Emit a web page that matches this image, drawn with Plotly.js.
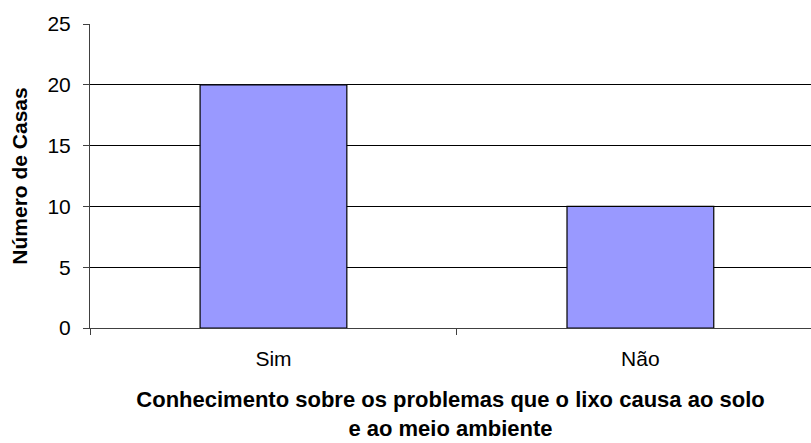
<!DOCTYPE html>
<html>
<head>
<meta charset="utf-8">
<script src="https://cdn.plot.ly/plotly-3.0.1.min.js"></script>
<style>html,body{margin:0;padding:0;background:#fff;}#chart{width:811px;height:443px;}</style>
</head>
<body>
<div id="chart"></div>
<script>
const categories = ["Sim", "Não"];
const values = [20, 10];
const yTicks = [0, 5, 10, 15, 20, 25];

const trace = {
  type: "bar",
  x: categories,
  y: values,
  marker: { color: "#9999FF", line: { color: "#000000", width: 1.2 } },
  hoverinfo: "x+y"
};

const layout = {
  width: 811,
  height: 443,
  margin: { l: 90, r: 0, t: 24, b: 115 },
  paper_bgcolor: "#ffffff",
  plot_bgcolor: "#ffffff",
  font: { family: "Liberation Sans, Arial, sans-serif", color: "#000", size: 21 },
  bargap: 0.6,
  showlegend: false,
  xaxis: {
    type: "category",
    range: [-0.5, 1.465],
    showgrid: false,
    showline: true,
    linecolor: "#404040",
    linewidth: 1,
    ticks: "outside",
    tickson: "boundaries",
    ticklen: 6,
    tickcolor: "#404040",
    tickfont: { size: 21 },
    ticklabelstandoff: 12,
    title: {
      text: "<b>Conhecimento sobre os problemas que o lixo causa ao solo<br>e ao meio ambiente</b>",
      font: { size: 22 },
      standoff: 22
    }
  },
  yaxis: {
    range: [0, 25],
    tickvals: yTicks,
    showgrid: true,
    gridcolor: "#000000",
    gridwidth: 1,
    zeroline: false,
    showline: true,
    linecolor: "#404040",
    ticks: "outside",
    ticklen: 6,
    tickcolor: "#404040",
    tickfont: { size: 21 },
    ticklabelstandoff: 8,
    title: { text: "<b>Número de Casas</b>", font: { size: 21 }, standoff: 14 }
  }
};

Plotly.newPlot("chart", [trace], layout, { displayModeBar: false, staticPlot: true });
</script>
</body>
</html>
